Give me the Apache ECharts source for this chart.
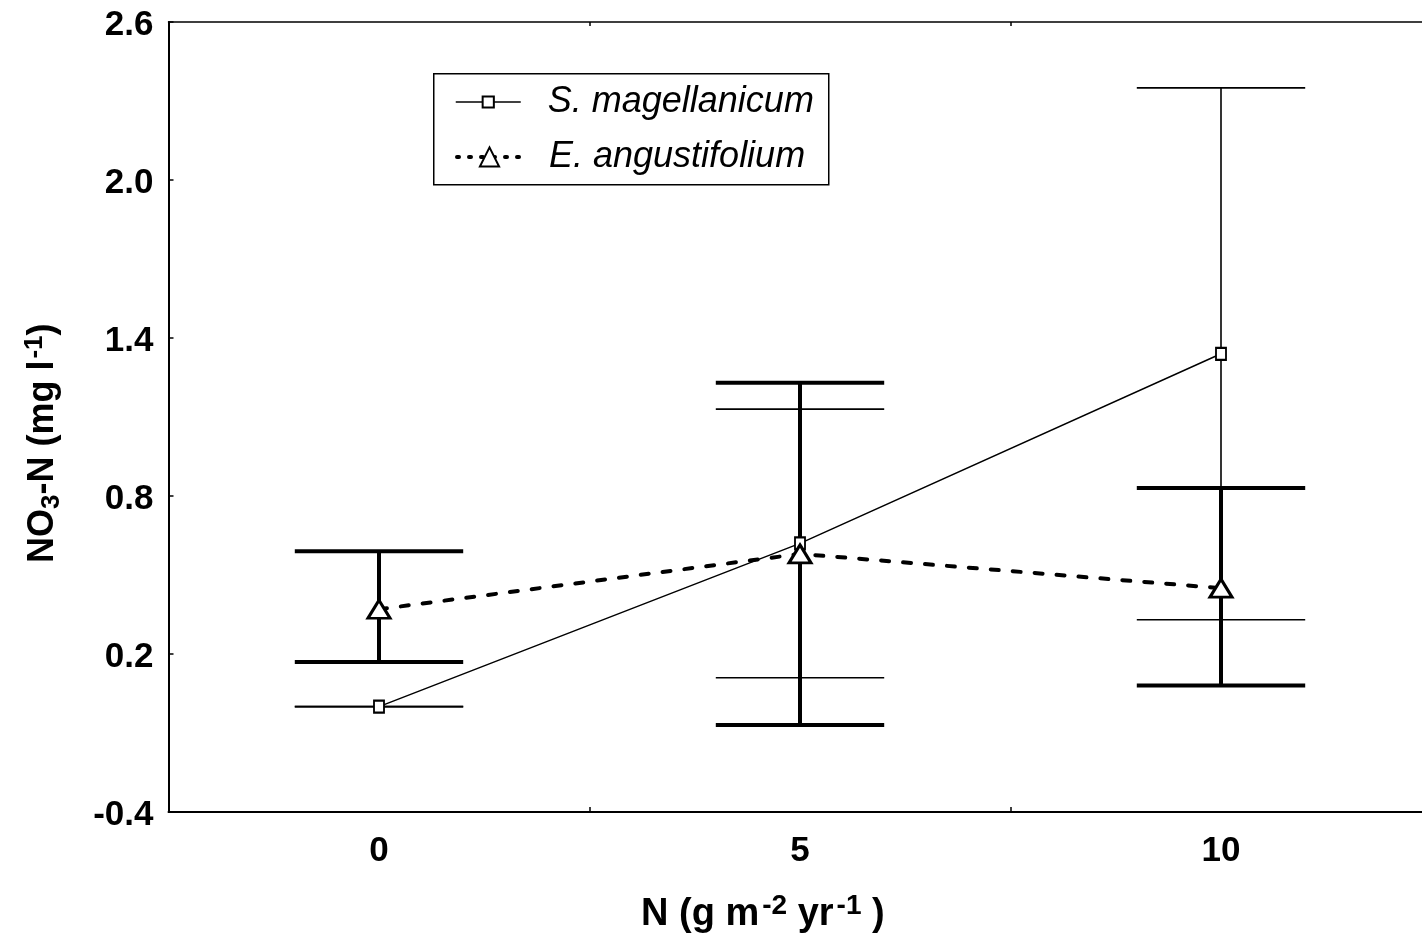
<!DOCTYPE html>
<html><head><meta charset="utf-8">
<script src="https://cdn.jsdelivr.net/npm/echarts@6/dist/echarts.min.js"></script>
<style>html,body{margin:0;padding:0;background:#fff}#c{width:1422px;height:936px}</style>
</head><body><div id="c"></div>
<script>
// Data
const nLevels = [0, 5, 10];
const sMagMean = [0.0, 0.62, 1.34];
const sMagLow  = [0.0, 0.11, 0.33];
const sMagHigh = [0.0, 1.13, 2.35];
const eAngMean = [0.37, 0.58, 0.45];
const eAngLow  = [0.17, -0.07, 0.08];
const eAngHigh = [0.59, 1.23, 0.83];
const yTickValues = [-0.4, 0.2, 0.8, 1.4, 2.0, 2.6];
const xLabelValues = [0, 5, 10];
const xMinorTicks = [2.5, 7.5];
const seriesNames = ['S. magellanicum', 'E. angustifolium'];

const FONT = "'Liberation Sans', Arial, Helvetica, sans-serif";
const chart = echarts.init(document.getElementById('c'), null, {renderer: 'canvas'});

function errData(xs, lo, hi) { return xs.map((x, i) => [x, lo[i], hi[i]]); }
function errRender(width) {
  return function (params, api) {
    const x = api.value(0), lo = api.value(1), hi = api.value(2);
    const pLo = api.coord([x, lo]), pHi = api.coord([x, hi]);
    const cL = api.coord([x - 1, lo])[0], cR = api.coord([x + 1, lo])[0];
    const st = {stroke: '#000', lineWidth: width, fill: null};
    return {type: 'group', children: [
      {type: 'line', shape: {x1: pLo[0], y1: pLo[1], x2: pHi[0], y2: pHi[1]}, style: st},
      {type: 'line', shape: {x1: cL, y1: pLo[1], x2: cR, y2: pLo[1]}, style: st},
      {type: 'line', shape: {x1: cL, y1: pHi[1], x2: cR, y2: pHi[1]}, style: st}
    ]};
  };
}

const axisLabelStyle = {color: '#000', fontSize: 35, fontWeight: 'bold', fontFamily: FONT};
const legendText = {color: '#000', fontSize: 36, fontStyle: 'italic', fontFamily: FONT, lineHeight: 40, padding: [0, 0, 0, 22]};

chart.setOption({
  animation: false,
  backgroundColor: '#fff',
  grid: {left: 168.5, top: 22, right: -9.5, bottom: 124, containLabel: false, outerBoundsMode: 'none'},
  xAxis: [{
    type: 'value', min: -2.5, max: 12.5, interval: 2.5, position: 'bottom',
    axisLine: {show: true, onZero: false, lineStyle: {color: '#000', width: 2}},
    axisTick: {show: true, inside: true, length: 5, customValues: xMinorTicks, lineStyle: {color: '#000', width: 1.5}},
    axisLabel: Object.assign({margin: 22, customValues: xLabelValues}, axisLabelStyle),
    splitLine: {show: false}
  }, {
    type: 'value', min: -2.5, max: 12.5, interval: 2.5, position: 'top',
    axisLine: {show: true, onZero: false, lineStyle: {color: '#000', width: 1.5}},
    axisTick: {show: true, inside: true, length: 4, customValues: xMinorTicks, lineStyle: {color: '#000', width: 1.5}},
    axisLabel: {show: false},
    splitLine: {show: false}
  }],
  yAxis: {
    type: 'value', min: -0.4, max: 2.6, interval: 0.6,
    axisLine: {show: true, onZero: false, lineStyle: {color: '#000', width: 2}},
    axisTick: {show: true, inside: true, length: 5, customValues: yTickValues, lineStyle: {color: '#000', width: 1.5}},
    axisLabel: Object.assign({margin: 15, customValues: yTickValues,
      formatter: v => '{t|' + (Math.round(v * 10) / 10).toFixed(1) + '}',
      rich: {t: {fontSize: 35, fontWeight: 'bold', fontFamily: FONT, color: '#000', padding: [7, 0, 0, 0]}}
    }, axisLabelStyle),
    splitLine: {show: false}
  },
  legend: [{
    orient: 'vertical', left: 455, top: 82, padding: 0,
    data: [{name: seriesNames[0]}],
    itemWidth: 65, itemHeight: 14, itemGap: 0,
    lineStyle: {width: 1.5},
    textStyle: legendText
  }, {
    orient: 'vertical', left: 455, top: 137, padding: 0,
    data: [{name: seriesNames[1], lineStyle: {width: 4, type: [2, 10], cap: 'round'}}],
    itemWidth: 65, itemHeight: 24, itemGap: 0,
    textStyle: legendText
  }],
  graphic: [{
    type: 'rect', z: -1, left: 433, top: 73,
    shape: {width: 395, height: 111},
    style: {fill: '#fff', stroke: '#000', lineWidth: 1.5}
  }, {
    type: 'text', left: 641, top: 892,
    style: {
      text: '{b|N (g m}{sup|-2}{b| yr}{sup|-1}{b| )}',
      rich: {
        b: {fontSize: 38, fontWeight: 'bold', fontFamily: FONT, fill: '#000', lineHeight: 46},
        sup: {fontSize: 28, fontWeight: 'bold', fontFamily: FONT, fill: '#000', padding: [0, 0, 17, 3]}
      }
    }
  }, {
    type: 'text', x: 21, y: 563, rotation: Math.PI / 2,
    style: {
      text: '{b|NO}{sub|3}{b|-N (mg l}{sup|-1}{b|)}',
      rich: {
        b: {fontSize: 36, fontWeight: 'bold', fontFamily: FONT, fill: '#000', lineHeight: 44},
        sub: {fontSize: 26, fontWeight: 'bold', fontFamily: FONT, fill: '#000', padding: [17, 0, 0, 0]},
        sup: {fontSize: 26, fontWeight: 'bold', fontFamily: FONT, fill: '#000', padding: [0, 0, 17, 2]}
      }
    }
  }],
  series: [{
    type: 'custom', name: 'smErr', renderItem: errRender(1.6), z: 1,
    data: errData(nLevels, sMagLow, sMagHigh), encode: {x: 0, y: [1, 2]}, silent: true
  }, {
    type: 'custom', name: 'eaErr', renderItem: errRender(4), z: 1,
    data: errData(nLevels, eAngLow, eAngHigh), encode: {x: 0, y: [1, 2]}, silent: true
  }, {
    type: 'line', name: seriesNames[0], z: 3,
    data: nLevels.map((x, i) => [x, sMagMean[i]]),
    symbol: 'rect', symbolSize: [10, 12], showSymbol: true,
    lineStyle: {color: '#000', width: 1.5, type: 'solid'},
    itemStyle: {color: '#fff', borderColor: '#000', borderWidth: 2}
  }, {
    type: 'line', name: seriesNames[1], z: 4,
    data: nLevels.map((x, i) => [x, eAngMean[i]]),
    symbol: 'triangle', symbolSize: [22, 18], showSymbol: true,
    lineStyle: {color: '#000', width: 4, type: [8, 14], cap: 'round'},
    itemStyle: {color: '#fff', borderColor: '#000', borderWidth: 3}
  }]
});
</script>
</body></html>
